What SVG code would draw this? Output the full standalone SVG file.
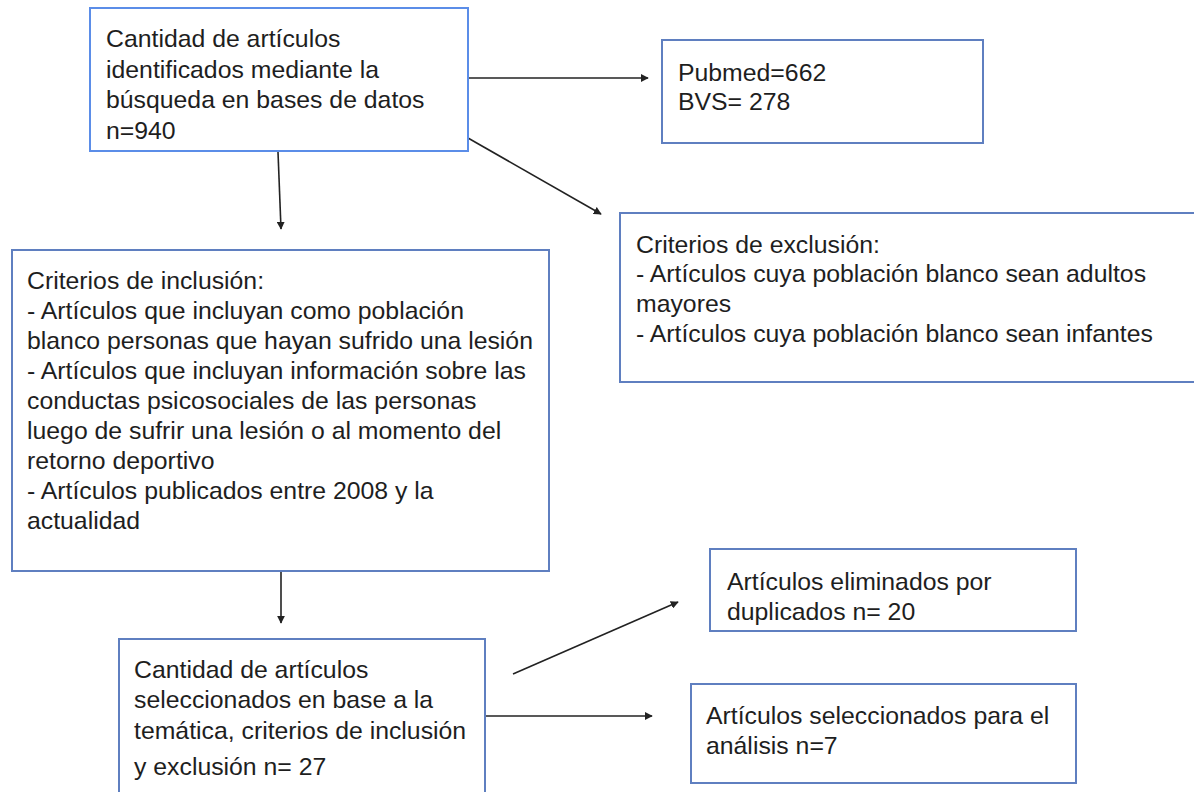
<svg xmlns="http://www.w3.org/2000/svg" width="1194" height="792" viewBox="0 0 1194 792">
<style>
.box{fill:#ffffff;stroke:#5f7fc0;stroke-width:2}
.box1{fill:#ffffff;stroke:#5b8de8;stroke-width:2}
.t{font-family:"Liberation Sans",Arial,sans-serif;font-size:24.8px;fill:#1e1e1e}
.c{stroke:#222222;stroke-width:1.6;fill:none;marker-end:url(#ah)}
</style>
<defs>
<marker id="ah" viewBox="0 0 10 10" refX="9" refY="5" markerWidth="8" markerHeight="8" markerUnits="userSpaceOnUse" orient="auto">
<path d="M0,0 L10,5 L0,10 z" fill="#222222"/>
</marker>
</defs>
<rect width="1194" height="792" fill="#ffffff"/>
<g id="connectors">
<line class="c" x1="468" y1="78" x2="648" y2="78"/>
<line class="c" x1="468" y1="138" x2="601" y2="214"/>
<line class="c" x1="278" y1="152" x2="281" y2="229"/>
<line class="c" x1="281" y1="572" x2="281" y2="623"/>
<line class="c" x1="513" y1="674" x2="678" y2="602"/>
<line class="c" x1="486" y1="716" x2="652" y2="716" stroke-width="2.4"/>
</g>
<g id="n1">
<rect class="box1" x="90" y="8" width="378" height="143"/>
<text class="t" x="106" y="47">Cantidad de artículos</text>
<text class="t" x="106" y="78">identificados mediante la</text>
<text class="t" x="106" y="108">búsqueda en bases de datos</text>
<text class="t" x="106" y="139">n=940</text>
</g>
<g id="n2">
<rect class="box" x="662" y="40" width="321" height="103"/>
<text class="t" x="678" y="81">Pubmed=662</text>
<text class="t" x="678" y="110">BVS= 278</text>
</g>
<g id="n3">
<rect class="box" x="620" y="213" width="590" height="169"/>
<text class="t" x="636" y="253">Criterios de exclusión:</text>
<text class="t" x="636" y="282">- Artículos cuya población blanco sean adultos</text>
<text class="t" x="636" y="312">mayores</text>
<text class="t" x="636" y="342">- Artículos cuya población blanco sean infantes</text>
</g>
<g id="n4">
<rect class="box" x="12" y="250" width="537" height="321"/>
<text class="t" x="27" y="289">Criterios de inclusión:</text>
<text class="t" x="27" y="319">- Artículos que incluyan como población</text>
<text class="t" x="27" y="349">blanco personas que hayan sufrido una lesión</text>
<text class="t" x="27" y="379">- Artículos que incluyan información sobre las</text>
<text class="t" x="27" y="409">conductas psicosociales de las personas</text>
<text class="t" x="27" y="439">luego de sufrir una lesión o al momento del</text>
<text class="t" x="27" y="469">retorno deportivo</text>
<text class="t" x="27" y="499">- Artículos publicados entre 2008 y la</text>
<text class="t" x="27" y="529">actualidad</text>
</g>
<g id="n5">
<rect class="box" x="119" y="639" width="366" height="170"/>
<text class="t" x="134" y="678">Cantidad de artículos</text>
<text class="t" x="134" y="708">seleccionados en base a la</text>
<text class="t" x="134" y="739">temática, criterios de inclusión</text>
<text class="t" x="134" y="775">y exclusión n= 27</text>
</g>
<g id="n6">
<rect class="box" x="710" y="549" width="366" height="82"/>
<text class="t" x="727" y="590">Artículos eliminados por</text>
<text class="t" x="727" y="620">duplicados n= 20</text>
</g>
<g id="n7">
<rect class="box" x="691" y="684" width="385" height="99"/>
<text class="t" x="706" y="724">Artículos seleccionados para el</text>
<text class="t" x="706" y="754">análisis n=7</text>
</g>
</svg>
